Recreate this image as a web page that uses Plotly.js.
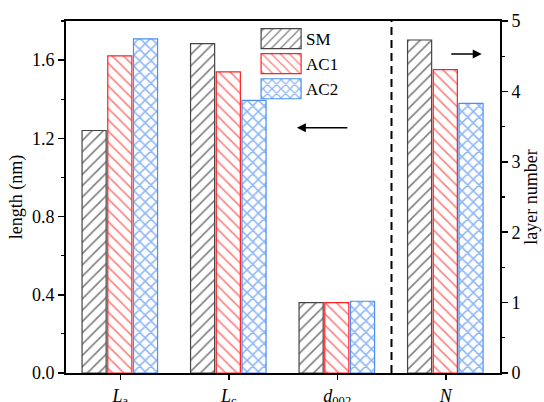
<!DOCTYPE html>
<html><head><meta charset="utf-8">
<script src="https://cdn.plot.ly/plotly-3.0.1.min.js"></script>
<style>body{margin:0;background:#fff}#c{width:544px;height:402px}</style>
</head><body><div id="c"></div>
<script>
const categories = ['<i>L</i><sub>a</sub>', '<i>L</i><sub>c</sub>', '<i>d</i><sub>002</sub>', '<i>N</i>'];
const lengthCats = categories.slice(0, 3);
const layerCats = categories.slice(3);
const seriesNames = ['SM', 'AC1', 'AC2'];
const smLength = [1.24, 1.684, 0.36];
const ac1Length = [1.622, 1.540, 0.36];
const ac2Length = [1.709, 1.394, 0.367];
const smLayer = [4.73];
const ac1Layer = [4.31];
const ac2Layer = [3.83];

const styles = {
  SM: {line: '#444444', fg: '#000000', shape: '/', size: 8, sol: 0.2, offset: -0.352},
  AC1: {line: '#ff2020', fg: '#ff0000', shape: '\\', size: 8, sol: 0.2, offset: -0.115},
  AC2: {line: '#4a90f0', fg: '#2070ee', shape: 'x', size: 8, sol: 0.36, offset: 0.122}
};
const lengthVals = {SM: smLength, AC1: ac1Length, AC2: ac2Length};
const layerVals = {SM: smLayer, AC1: ac1Layer, AC2: ac2Layer};

function bar(name, x, y, yaxis, show) {
  const s = styles[name];
  return {
    type: 'bar', name: name, x: x, y: y, yaxis: yaxis, showlegend: show,
    width: 0.222, offset: s.offset, legendgroup: name,
    marker: {color: '#ffffff', line: {color: s.line, width: 1.2},
      pattern: {shape: s.shape, fgcolor: s.fg, bgcolor: '#ffffff', size: s.size, solidity: s.sol, fillmode: 'overlay'}},
    hoverinfo: 'skip'
  };
}
const data = [];
seriesNames.forEach(n => data.push(bar(n, lengthCats, lengthVals[n], 'y', true)));
seriesNames.forEach(n => data.push(bar(n, layerCats, layerVals[n], 'y2', false)));

const FAM = 'Liberation Serif';
const font = {family: FAM, color: '#000', size: 18};
const tfont = {family: FAM, size: 18, color: '#000'};
const layout = {
  width: 544, height: 402,
  margin: {l: 66, r: 44, t: 21, b: 29},
  paper_bgcolor: '#fff', plot_bgcolor: '#fff',
  font: font,
  barmode: 'overlay',
  showlegend: true,
  legend: {x: 0.438, y: 1.0, xanchor: 'left', yanchor: 'top', bgcolor: 'rgba(0,0,0,0)',
    font: {family: FAM, size: 17, color: '#000'}, tracegroupgap: 0, itemwidth: 40},
  xaxis: {type: 'category', categoryorder: 'array', categoryarray: categories, range: [-0.5, 3.5],
    showline: true, linecolor: '#000', linewidth: 2, mirror: true,
    ticks: 'outside', ticklen: 5, tickwidth: 1.5, tickcolor: '#000', showgrid: false, zeroline: false,
    tickfont: tfont},
  yaxis: {range: [0, 1.8], tickvals: [0, 0.4, 0.8, 1.2, 1.6], tickformat: '.1f',
    showline: true, linecolor: '#000', linewidth: 2, ticks: 'outside', ticklen: 6, tickwidth: 1.5,
    tickcolor: '#000', showgrid: false, zeroline: false,
    minor: {tickvals: [0.2, 0.6, 1.0, 1.4, 1.8], ticks: 'outside', ticklen: 3, tickwidth: 1.2, tickcolor: '#000'},
    tickfont: tfont,
    title: {text: 'length (nm)', font: {family: FAM, size: 18, color: '#000'}, standoff: 5}},
  yaxis2: {overlaying: 'y', side: 'right', range: [0, 5], tickvals: [0, 1, 2, 3, 4, 5],
    showline: true, linecolor: '#000', linewidth: 2, ticks: 'outside', ticklen: 6, tickwidth: 1.5,
    tickcolor: '#000', showgrid: false, zeroline: false,
    minor: {tickvals: [0.5, 1.5, 2.5, 3.5, 4.5], ticks: 'outside', ticklen: 3, tickwidth: 1.2, tickcolor: '#000'},
    tickfont: tfont,
    title: {text: 'layer number', font: {family: FAM, size: 18, color: '#000'}, standoff: 5}},
  shapes: [{type: 'line', xref: 'x', yref: 'paper', x0: 2.5, x1: 2.5, y0: 0, y1: 1,
    line: {color: '#000', width: 2, dash: '8px,5px'}}],
  annotations: [
    {xref: 'paper', yref: 'paper', x: 0.532, y: 0.697, ax: 52, ay: 0, showarrow: true,
      arrowhead: 2, arrowsize: 1.2, arrowwidth: 1.5, arrowcolor: '#000', text: ''},
    {xref: 'paper', yref: 'paper', x: 0.958, y: 0.906, ax: -32, ay: 0, showarrow: true,
      arrowhead: 2, arrowsize: 1.2, arrowwidth: 1.5, arrowcolor: '#000', text: ''}
  ]
};
Plotly.newPlot('c', data, layout, {displayModeBar: false, staticPlot: true}).then(function () {
  document.querySelectorAll('.legend .legendpoints path').forEach(function (p) {
    p.setAttribute('d', 'M20,10H-20V-10H20Z');
  });
});
</script></body></html>
